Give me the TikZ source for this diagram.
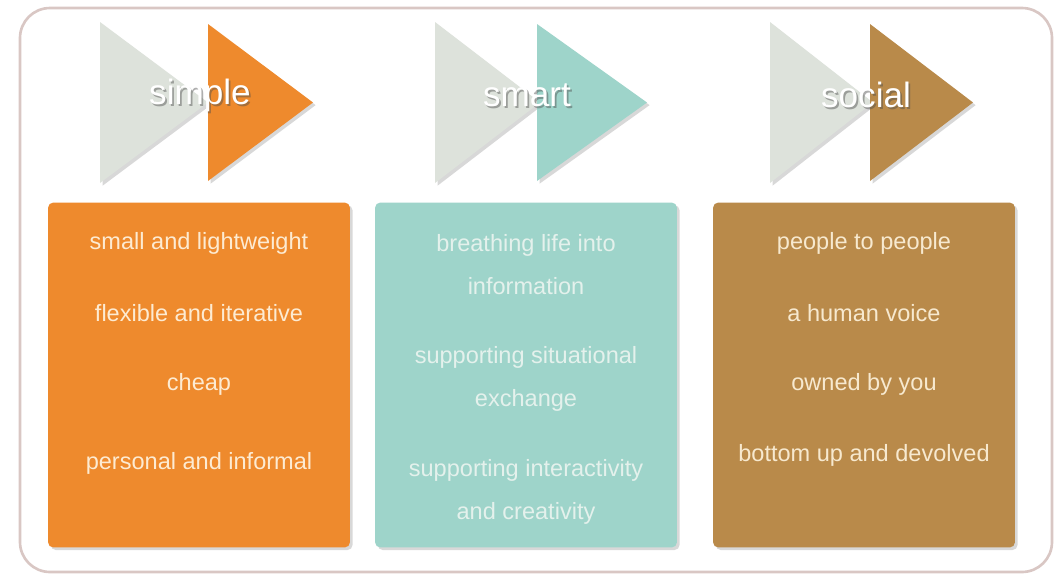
\documentclass[tikz,border=0pt]{standalone}
\usepackage{fontspec}
\setmainfont{Liberation Sans}
\usetikzlibrary{%
  shadows,% drop shadow
  positioning%
}
\definecolor{simplecol}{HTML}{EE8A2D}
\definecolor{smartcol}{HTML}{9ED4CA}
\definecolor{socialcol}{HTML}{B98A4A}
\definecolor{backcol}{HTML}{DDE2DB}
\definecolor{framecol}{HTML}{D9C7C4}
\definecolor{simpletext}{HTML}{FDEBD2}
\definecolor{smarttext}{HTML}{E4F1EC}
\definecolor{socialtext}{HTML}{F7E9CF}

\begin{document}
\begin{tikzpicture}[
    x=0.02cm,y=-0.02cm,line join=round,
    frame/.style={draw=framecol,line width=1.5pt,rounded corners=0.6cm,fill=white},
    shade/.style={drop shadow={shadow xshift=1.5pt,shadow yshift=-1.5pt,opacity=.3}},
    backtri/.style={fill=backcol,shade},
    headline/.style={text=white,font=\fontsize{20}{24}\selectfont},
    headshadow/.style={text=black!70,text opacity=.45,font=\fontsize{20}{24}\selectfont},
    column/.style={rectangle,rounded corners=3pt,minimum width=6.04cm,
        minimum height=6.9cm,shade},
    item/.style={align=center,font=\fontsize{13.4}{24.5}\selectfont}
  ]
    \useasboundingbox (0,0) rectangle (1059,576);
    \draw[frame] (20,8) rectangle (1052,572);

    % arrows
    \fill[backtri] (100,22) -- (208,102.5) -- (100,183) -- cycle;
    \fill[fill=simplecol,shade] (208,24) -- (313,102.5) -- (208,181) -- cycle;
    \fill[backtri] (435,22) -- (540,102.5) -- (435,183) -- cycle;
    \fill[fill=smartcol,shade] (537,24) -- (647,102.5) -- (537,181) -- cycle;
    \fill[backtri] (770,22) -- (873,102.5) -- (770,183) -- cycle;
    \fill[fill=socialcol,shade] (870,24) -- (973,102.5) -- (870,181) -- cycle;

    \node[headshadow] (simpleshade) at ([shift={(1pt,-1.2pt)}]200,95) {simple};
    \node[headline]   (simplehead)  at (200,95) {simple};
    \node[headshadow] (smartshade)  at ([shift={(1pt,-1.2pt)}]527,95) {smart};
    \node[headline]   (smarthead)   at (527,95) {smart};
    \node[headshadow] (socialshade) at ([shift={(1pt,-1.2pt)}]866,95) {social};
    \node[headline]   (socialhead)  at (866,95) {social};

    % columns
    \node[column,fill=simplecol] (simplebox) at (199,375) {};
    \node[column,fill=smartcol]  (smartbox)  at (526,375) {};
    \node[column,fill=socialcol] (socialbox) at (864,375) {};

    \begin{scope}[every node/.style={item,text=simpletext}]
        \node (simple1) at (199,243) {small and lightweight};
        \node (simple2) at (199,313) {flexible and iterative};
        \node (simple3) at (199,384) {cheap};
        \node (simple4) at (199,463) {personal and informal};
    \end{scope}
    \begin{scope}[every node/.style={item,text=smarttext}]
        \node (smart1) at (526,264.5) {breathing life into\\information};
        \node (smart2) at (526,378.5) {supporting situational\\exchange};
        \node (smart3) at (526,491.5) {supporting interactivity\\and creativity};
    \end{scope}
    \begin{scope}[every node/.style={item,text=socialtext}]
        \node (social1) at (864,243) {people to people};
        \node (social2) at (864,313) {a human voice};
        \node (social3) at (864,384) {owned by you};
        \node (social4) at (864,455) {bottom up and devolved};
    \end{scope}
\end{tikzpicture}
\end{document}
